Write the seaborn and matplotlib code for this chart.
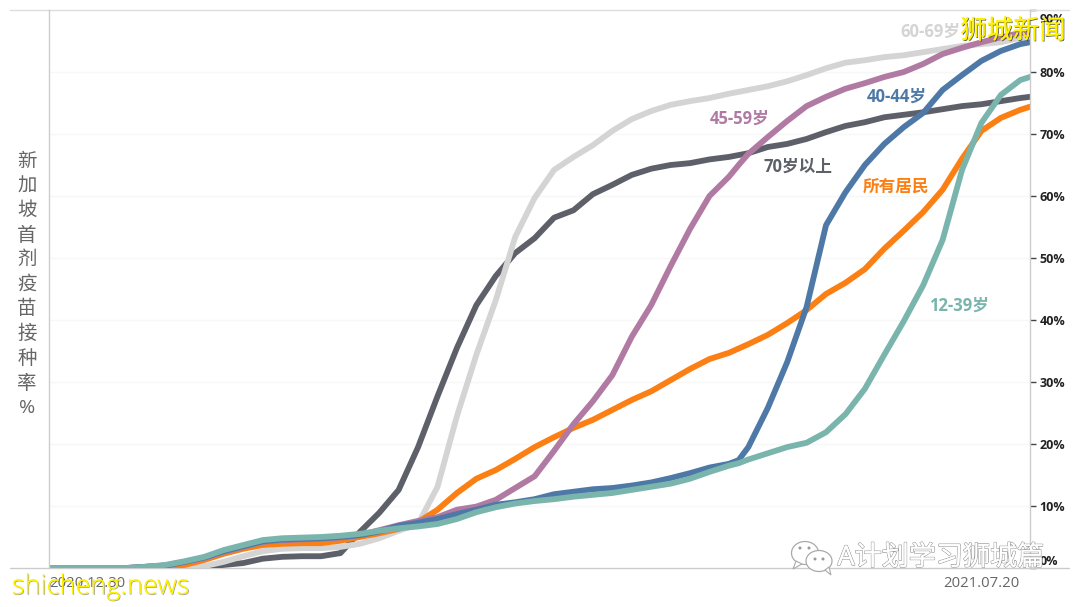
"""Tasa de primera dosis en Singapur por grupo de edad."""

import matplotlib.pyplot as plt
import matplotlib.patheffects as pe
from matplotlib.patches import Ellipse, Polygon
from matplotlib.transforms import ScaledTranslation
import pandas as pd
import seaborn as sns

# dias desde 2020-12-30
dias = [0, 4, 8, 12, 16, 20, 24, 28, 32, 36, 40, 44, 48, 52, 56, 60, 64, 68, 72, 76,
        80, 84, 88, 92, 96, 100, 104, 108, 112, 116, 120, 124, 128, 132, 136, 140, 142,
        144, 148, 152, 156, 160, 164, 168, 172, 176, 180, 184, 188, 192, 196, 200, 202]

mayores_70 = [0, 0, 0, 0, 0, 0, 0, 0, 0.2, 0.5, 0.8, 1.5, 1.8, 1.9, 1.9, 2.4, 5.8, 8.9, 12.6, 19.5,
              27.7, 35.5, 42.4, 47.1, 50.8, 53.2, 56.5, 57.7, 60.3, 61.8, 63.4, 64.4, 65.0, 65.3, 65.9, 66.3, 66.6,
              66.9, 67.9, 68.4, 69.2, 70.3, 71.3, 71.9, 72.7, 73.1, 73.5, 74.0, 74.5, 74.8, 75.3, 75.8, 76.0]
edad_60_69 = [0, 0, 0, 0, 0, 0, 0, 0, 0.3, 1.0, 1.9, 2.7, 3.1, 3.2, 3.2, 3.4, 3.9, 4.8, 6.0, 7.1,
              13.1, 24.5, 34.4, 43.2, 53.4, 59.7, 64.2, 66.3, 68.2, 70.5, 72.4, 73.7, 74.7, 75.3, 75.8, 76.5, 76.8,
              77.1, 77.7, 78.5, 79.5, 80.6, 81.5, 81.9, 82.4, 82.7, 83.2, 83.7, 84.2, 84.5, 84.8, 85.5, 85.8]
todos = [0, 0, 0, 0, 0, 0.1, 0.3, 0.5, 1.3, 2.3, 3.1, 3.7, 3.9, 4.0, 4.0, 4.4, 5.0, 5.6, 6.3, 7.4,
         9.4, 12.1, 14.4, 15.8, 17.6, 19.5, 21.1, 22.6, 23.9, 25.5, 27.1, 28.5, 30.3, 32.1, 33.7, 34.7, 35.4,
         36.1, 37.6, 39.5, 41.6, 44.2, 46.0, 48.2, 51.5, 54.4, 57.4, 61.0, 66.0, 70.5, 72.6, 73.9, 74.4]
edad_45_59 = [0, 0, 0, 0, 0, 0.2, 0.4, 1.0, 1.6, 2.6, 3.4, 4.2, 4.5, 4.6, 4.7, 4.9, 5.3, 6.1, 6.9, 7.6,
              8.2, 9.4, 9.9, 11.0, 12.9, 14.8, 18.9, 23.2, 26.9, 31.1, 37.3, 42.4, 48.7, 54.7, 60.0, 63.1, 65.0,
              66.8, 69.5, 72.1, 74.5, 76.0, 77.3, 78.2, 79.2, 80.0, 81.3, 82.9, 83.9, 84.8, 85.6, 86.3, 86.5]
edad_40_44 = [0, 0, 0, 0, 0, 0.2, 0.4, 1.0, 1.7, 2.7, 3.5, 4.3, 4.6, 4.7, 4.8, 5.0, 5.3, 5.9, 6.8, 7.3,
              7.9, 8.7, 9.4, 10.2, 10.6, 11.1, 11.9, 12.3, 12.7, 12.9, 13.3, 13.8, 14.5, 15.3, 16.2, 16.8, 17.4,
              19.5, 25.8, 33.2, 42.1, 55.3, 60.6, 65.0, 68.4, 71.1, 73.4, 77.1, 79.5, 81.8, 83.4, 84.5, 84.8]
edad_12_39 = [0, 0, 0, 0, 0, 0.2, 0.5, 1.1, 1.8, 2.9, 3.7, 4.5, 4.8, 4.9, 5.0, 5.2, 5.5, 6.0, 6.4, 6.7,
              7.1, 7.9, 9.0, 9.8, 10.4, 10.8, 11.1, 11.5, 11.8, 12.1, 12.6, 13.1, 13.6, 14.4, 15.5, 16.5, 16.9,
              17.5, 18.5, 19.5, 20.2, 21.9, 24.8, 28.9, 34.4, 39.8, 45.6, 52.9, 64.2, 71.8, 76.3, 78.7, 79.2]

# orden de dibujo: el ultimo queda encima
grupos = ["70岁以上", "60-69岁", "所有居民", "45-59岁", "40-44岁", "12-39岁"]
series = [mayores_70, edad_60_69, todos, edad_45_59, edad_40_44, edad_12_39]
colores = ["#5d6069", "#d4d4d4", "#fb7f12", "#b07aa3", "#4e79a7", "#79b5ad"]

# dia y valor del centro de cada etiqueta
etiqueta_dia = [154.2, 181.4, 174.4, 142.3, 174.6, 187.4]
etiqueta_valor = [64.7, 86.5, 61.5, 72.4, 76.0, 42.3]

marcas_y = [0, 10, 20, 30, 40, 50, 60, 70, 80, 90]
inicio = pd.Timestamp("2020-12-30")
fin = pd.Timestamp("2021-07-20")
fuente = ["Open Sans", "Noto Sans CJK SC", "DejaVu Sans"]

sns.set_style("white")
plt.rcParams["font.family"] = fuente
plt.rcParams["lines.solid_joinstyle"] = "round"

tabla = pd.concat(
    pd.DataFrame({"fecha": inicio + pd.to_timedelta(dias, unit="D"), "tasa": s, "grupo": g})
    for g, s in zip(grupos, series)
)

fig = plt.figure(figsize=(10.8, 6.07), dpi=100)
ax = fig.add_axes([49 / 1080, 1 - 568 / 607, 981 / 1080, 558 / 607])

sns.lineplot(
    data=tabla, x="fecha", y="tasa", hue="grupo", hue_order=grupos,
    palette=colores, linewidth=4.2, estimator=None, sort=False, legend=False, ax=ax,
)

ax.set_xlim(inicio, fin)
ax.set_ylim(0, 90)
ax.set_xlabel("")
ax.set_ylabel("")

# ejes y rejilla
for lado in ["left", "right"]:
    ax.spines[lado].set_visible(True)
    ax.spines[lado].set_color("#cccccc")
    ax.spines[lado].set_linewidth(1)
ax.spines["top"].set_visible(False)
ax.spines["bottom"].set_visible(False)
ax.axhline(0, xmin=-0.04, xmax=1.04, color="#cccccc", lw=1, clip_on=False, zorder=1)
ax.axhline(90, xmin=-0.04, xmax=1.04, color="#dddddd", lw=1, clip_on=False, zorder=1)
for v in marcas_y[1:-1]:
    ax.axhline(v, color="#f7f7f7", lw=1, zorder=0)

ax.yaxis.tick_right()
ax.set_yticks(marcas_y)
ax.set_yticklabels([f"{v}%" for v in marcas_y], fontsize=9, fontweight="bold", color="#222222")
ax.tick_params(axis="y", length=4, width=1, color="#444444", pad=3)
ax.get_yticklabels()[0].set_va("bottom")
ax.get_yticklabels()[-1].set_va("top")
etq_90 = ax.get_yticklabels()[-1]
etq_90.set_transform(etq_90.get_transform() + ScaledTranslation(0, -3 / 100, fig.dpi_scale_trans))

ax.set_xticks([inicio, fin])
ax.set_xticklabels(["2020.12.30", "2021.07.20"], fontsize=10.7, color="#666666")
ax.tick_params(axis="x", length=0, pad=6)
etq_ini, etq_fin = ax.get_xticklabels()
etq_ini.set_ha("left")
etq_fin.set_ha("right")
etq_fin.set_transform(etq_fin.get_transform() + ScaledTranslation(-10 / 100, 0, fig.dpi_scale_trans))

# titulo vertical, un caracter por linea
fig.text(27 / 1080, 1 - 285 / 607, "\n".join("新加坡首剂疫苗接种率%"), ha="center", va="center",
         fontsize=14, color="#666666", linespacing=1.46)

# etiquetas de cada serie
for g, c, d, v in zip(grupos, colores, etiqueta_dia, etiqueta_valor):
    ax.text(inicio + pd.Timedelta(days=d), v, g, color=c, fontsize=12, fontweight="bold",
            ha="center", va="center", zorder=6)

# marcas de agua
fig.text(1013 / 1080, 1 - 32 / 607, "狮城新闻", color="#fff200", fontsize=19, ha="center", va="center",
         zorder=10, path_effects=[pe.withSimplePatchShadow(offset=(0.6, -0.6), shadow_rgbFace="#333333", alpha=0.8),
                                  pe.Normal()])
fig.text(101 / 1080, 1 - 587 / 607, "shicheng.news", color="#fff200", fontsize=19.5, ha="center", va="center",
         fontweight="light", zorder=10,
         path_effects=[pe.withSimplePatchShadow(offset=(0.6, -0.6), shadow_rgbFace="#666666", alpha=0.6), pe.Normal()])
fig.text(941 / 1080, 1 - 558 / 607, "A计划学习狮城篇", color="white", fontsize=19.5, ha="center", va="center",
         zorder=10, path_effects=[pe.withStroke(linewidth=1.0, foreground="#9a9a9a"), pe.Normal()])

# icono de chat de la marca de agua
for cx, cy, w, h in [(805, 553, 27, 23), (819, 561, 26, 21)]:
    fig.add_artist(Ellipse((cx / 1080, 1 - cy / 607), w / 1080, h / 607, transform=fig.transFigure,
                           facecolor="white", edgecolor="#aaaaaa", lw=0.9, zorder=9))
for puntos in ([(796, 561), (793, 569), (802, 564)], [(825, 570), (831, 575), (829, 567)]):
    fig.add_artist(Polygon([(x / 1080, 1 - y / 607) for x, y in puntos], transform=fig.transFigure,
                           facecolor="white", edgecolor="#aaaaaa", lw=0.8, zorder=9))
for cx, cy in [(800, 548), (809, 548), (815, 559), (823, 559)]:
    fig.add_artist(Ellipse((cx / 1080, 1 - cy / 607), 3 / 1080, 3 / 607, transform=fig.transFigure,
                           facecolor="#999999", edgecolor="none", zorder=10))

fig.savefig("out.png", dpi=100)
